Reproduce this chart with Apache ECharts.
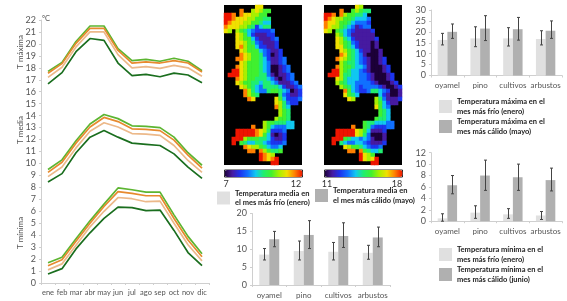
<!DOCTYPE html>
<html>
<head>
<meta charset="utf-8">
<style>html,body{margin:0;padding:0;background:#fff}#c{width:567px;height:301px}</style>
<script src="https://cdn.jsdelivr.net/npm/echarts@6/dist/echarts.min.js"></script>
</head>
<body>
<div id="c"></div>
<script>
const months = ['ene','feb','mar','abr','may','jun','jul','ago','sep','oct','nov','dic'];
const sites = ['oyamel','pino','cultivos','arbustos'];

// Monthly temperatures: four curves for each of the three panels
const maxGreen  = [17.7,18.45,20.2,21.5,21.5,19.6,18.6,18.7,18.55,18.8,18.55,17.75];
const maxOrange = [17.55,18.35,20.05,21.3,21.3,19.45,18.4,18.5,18.4,18.6,18.4,17.65];
const maxTan    = [17.2,18.05,19.75,21.0,21.0,19.1,18.0,18.1,17.95,18.2,18.0,17.3];
const maxDark   = [16.65,17.6,19.35,20.45,20.3,18.4,17.35,17.45,17.25,17.55,17.4,16.75];
const medGreen  = [9.5,10.3,11.9,13.3,14.1,13.75,13.15,13.1,13.0,12.2,10.9,9.85];
const medOrange = [9.25,10.1,11.7,13.05,13.85,13.5,12.9,12.85,12.75,11.95,10.7,9.6];
const medTan    = [8.9,9.7,11.3,12.7,13.4,13.05,12.5,12.45,12.35,11.5,10.25,9.25];
const medDark   = [8.45,9.15,10.9,12.2,12.75,12.2,11.7,11.6,11.5,10.8,9.7,8.75];
const minGreen  = [1.7,2.15,3.7,5.2,6.6,7.95,7.8,7.6,7.6,5.7,3.9,2.45];
const minOrange = [1.45,1.95,3.5,5.0,6.4,7.65,7.5,7.3,7.3,5.4,3.6,2.2];
const minTan    = [1.1,1.6,3.15,4.7,6.0,7.15,7.05,6.8,6.85,5.0,3.2,1.85];
const minDark   = [0.75,1.2,2.85,4.2,5.4,6.35,6.3,6.05,6.1,4.4,2.55,1.45];

// Bars and error bars per site
const tmaxCold = [16.3,17,17,16.7];
const tmaxWarm = [20,21.5,21.2,20.5];
const tmaxColdHi = [19.3,22.3,21.9,20.5], tmaxColdLo = [14,13.2,13.5,14];
const tmaxWarmHi = [23.6,27.4,26.6,25], tmaxWarmLo = [17,16,16.2,17];
const tmedCold = [8.5,9.5,9.3,9];
const tmedWarm = [12.8,14,13.7,13.3];
const tmedColdHi = [10.2,12.3,11.9,11.1], tmedColdLo = [7,7,7,7.2];
const tmedWarmHi = [15,18,17.4,16.2], tmedWarmLo = [10.7,10.2,10.5,10.7];
const tminCold = [0.5,1.5,1.2,1.0];
const tminWarm = [6.3,8,7.7,7.2];
const tminColdHi = [1.3,2.7,2.2,1.7], tminColdLo = [0,0.5,0.5,0.3];
const tminWarmHi = [8,10.7,10,9.3], tminWarmLo = [4.8,5.4,5.4,5.3];

// Gridded maps: each character is a level from 0 to 10 (a) on the colour bar, '.' is no data
const mapCold = [
"........88",
"....9..78766",
"aa9.9887766",
"aa9888776655",
"a98887766544",
"988877652455",
"87.7654322223",
"...8764211122",
"...87664211123",
"...88765321112",
"...89766422112",
"....87666432112",
"....98766532012",
"...9987665421123",
"....876665431123",
"...98766654300123",
"..aa8766654300123",
".aaa87666553101123",
"...987665554310123",
"...8766554554311123",
"....8765435555421123",
".....975433566543012",
".....9765.....532112",
"......98.....8642223",
".............875322",
".............9754",
"..............765",
"..............765",
".............7665",
"..........76655544",
".......9..76433344",
"...aaaaa98752223",
"...aaaaa98641012",
"..aaa76665542112",
"..a.654455432223",
".....9877654334",
"......99.976556",
".........a987",
".........a989a",
"............aa"];
const mapWarm = [
"........87",
"....9..67655",
"aa9.9766554",
"a98776654443",
"988766543332",
"987765431233",
"87.6543211112",
"...7643111111",
"...87542111112",
"...87653211101",
"...88654211101",
"....87654211001",
"....98654310001",
"...9876543210012",
"....765543210012",
"...97665443100012",
"..aa7654432100012",
".aaa75544332100012",
"...875444332100012",
"...7654433332100012",
"....7654323333210012",
".....964322355432001",
".....8654.....421001",
"......87.....7531112",
".............764211",
".............8643",
"..............654",
"..............654",
".............6554",
"..........65544433",
".......9..65322233",
"...aaaaa87641112",
"...aaaaa87530001",
"..aaa65443431001",
"..a.543344321112",
".....8766543223",
"......99.965445",
".........a876",
".........a878a",
"............aa"];
const mapColdRange = [7,12];
const mapWarmRange = [11,18];
const mapColdTicks = ['7','12'];
const mapWarmTicks = ['11','18'];
const palette = ['#1c0038','#461aa0','#1c34ee','#1070ff','#10c8f0','#20ee70','#40f030','#a8f000','#f0e000','#ff8000','#ee1500'];

const FONT = 'Lato';
const AXC = '#cfcfcf', TXT = '#555';
const LIGHT = '#e0e0e0', DARK = '#b0b0b0';
const cols = Array.from({length:20},(_,i)=>i), rows = Array.from({length:40},(_,i)=>i);

function decode(rowsIn, range){
  const out = [];
  rowsIn.forEach((r,y)=>{
    [...r].forEach((ch,x)=>{
      if(ch==='.') return;
      const lv = parseInt(ch,16);
      out.push([x,y,range[0]+lv/10*(range[1]-range[0])]);
    });
  });
  return out;
}

const grids = [
  {left:41,top:20,width:168,height:263},
  {left:224,top:5,width:78,height:160,show:true,backgroundColor:'#000',borderWidth:0},
  {left:324,top:5,width:78,height:160,show:true,backgroundColor:'#000',borderWidth:0},
  {left:431,top:10,width:131,height:65.5},
  {left:252,top:213.5,width:138,height:71.5},
  {left:431,top:152.7,width:131,height:68.5}
];
const catAxis = (g,data,font) => ({type:'category',gridIndex:g,data,
  axisLine:{lineStyle:{color:AXC}},axisTick:{show:true,alignWithLabel:false,length:2,lineStyle:{color:AXC}},
  axisLabel:{color:TXT,fontFamily:FONT,fontSize:font,margin:6,interval:0}});
const valAxis = (g,max,interval,font) => ({type:'value',gridIndex:g,min:0,max,interval,
  splitLine:{show:false},axisLine:{show:true,lineStyle:{color:AXC}},axisTick:{show:true,length:2,lineStyle:{color:AXC}},
  axisLabel:{color:TXT,fontFamily:FONT,fontSize:font,margin:5}});
const mapAxisX = g => ({type:'category',gridIndex:g,data:cols,show:false});
const mapAxisY = g => ({type:'category',gridIndex:g,data:rows,inverse:true,show:false});

const xAxes = [catAxis(0,months,7.5),mapAxisX(1),mapAxisX(2),catAxis(3,sites,8),catAxis(4,sites,8),catAxis(5,sites,8)];
const yAxes = [valAxis(0,22,1,9),mapAxisY(1),mapAxisY(2),valAxis(3,30,5,9),valAxis(4,20,5,9),valAxis(5,12,2,9)];

const series = [];
function line(data,color){
  series.push({type:'line',xAxisIndex:0,yAxisIndex:0,data,symbol:'none',silent:true,
    lineStyle:{color,width:1.7},z:color==='#1a6e1e'?3:2});
}
[[maxGreen,maxOrange,maxTan,maxDark],[medGreen,medOrange,medTan,medDark],[minGreen,minOrange,minTan,minDark]].forEach(g=>{
  line(g[0],'#5cb531');line(g[1],'#e78a2e');line(g[2],'#ecb98a');line(g[3],'#1a6e1e');
});
const mapColdIndex = series.length;
series.push({type:'heatmap',xAxisIndex:1,yAxisIndex:1,data:decode(mapCold,mapColdRange),silent:true,progressive:0});
const mapWarmIndex = series.length;
series.push({type:'heatmap',xAxisIndex:2,yAxisIndex:2,data:decode(mapWarm,mapWarmRange),silent:true,progressive:0});

function errorBars(g,hi,lo,side){
  series.push({type:'custom',xAxisIndex:g,yAxisIndex:g,silent:true,z:5,
    data:sites.map((s,i)=>[i,lo[i],hi[i]]),encode:{x:0,y:[1,2]},
    renderItem:(p,api)=>{
      const i=api.value(0), band=api.size([1,0])[0];
      const x=Math.round(api.coord([i,0])[0]+side*band*0.15)+0.5;
      const yl=api.coord([i,api.value(1)])[1], yh=api.coord([i,api.value(2)])[1];
      const st={stroke:'#444',lineWidth:1,fill:null};
      return {type:'group',children:[
        {type:'line',shape:{x1:x,y1:yl,x2:x,y2:yh},style:st},
        {type:'line',shape:{x1:x-1.5,y1:yl,x2:x+1.5,y2:yl},style:st},
        {type:'line',shape:{x1:x-1.5,y1:yh,x2:x+1.5,y2:yh},style:st}]};
    }});
}
function bars(g,name1,d1,name2,d2,hi1,lo1,hi2,lo2,bw){
  series.push({type:'bar',name:name1,xAxisIndex:g,yAxisIndex:g,data:d1,barWidth:bw,barGap:0,itemStyle:{color:LIGHT},silent:true});
  series.push({type:'bar',name:name2,xAxisIndex:g,yAxisIndex:g,data:d2,barWidth:bw,barGap:0,itemStyle:{color:DARK},silent:true});
  errorBars(g,hi1,lo1,-1);errorBars(g,hi2,lo2,1);
}
const nMaxC='Temperatura máxima en el\nmes más frío (enero)', nMaxW='Temperatura máxima en el\nmes más cálido (mayo)';
const nMedC='Temperatura media en\nel mes más frío (enero)', nMedW='Temperatura media en\nel mes más cálido (mayo)';
const nMinC='Temperatura mínima en el\nmes más frío (enero)', nMinW='Temperatura mínima en el\nmes más cálido (junio)';
bars(3,nMaxC,tmaxCold,nMaxW,tmaxWarm,tmaxColdHi,tmaxColdLo,tmaxWarmHi,tmaxWarmLo,9.7);
bars(4,nMedC,tmedCold,nMedW,tmedWarm,tmedColdHi,tmedColdLo,tmedWarmHi,tmedWarmLo,10);
bars(5,nMinC,tminCold,nMinW,tminWarm,tminColdHi,tminColdLo,tminWarmHi,tminWarmLo,9.7);

const legend = (data,left,top,gap) => ({data,left,top,orient:'vertical',padding:0,itemWidth:13,itemHeight:13,itemGap:gap,selectedMode:false,
  icon:'rect',textStyle:{color:'#222',fontFamily:FONT,fontWeight:'bold',fontSize:7.5,lineHeight:9.5}});

const bar = (left,seriesIndex,range) => ({type:'continuous',seriesIndex,min:range[0],max:range[1],left,top:169.5,orient:'horizontal',
  itemWidth:7,itemHeight:78,padding:0,calculable:false,realtime:false,hoverLink:false,text:null,showLabel:false,
  inRange:{color:palette},borderColor:'#222',borderWidth:1});

const label = (x,y,text,extra) => ({type:'text',x,y,silent:true,style:Object.assign({text,fill:'#333',font:'9px '+FONT},extra||{})});
const rotated = (x,y,text) => ({type:'text',x,y,rotation:Math.PI/2,silent:true,
  style:{text,fill:TXT,font:'8px '+FONT,textAlign:'center',textVerticalAlign:'middle'}});

const chart = echarts.init(document.getElementById('c'),null,{renderer:'canvas'});
chart.setOption({
  animation:false,backgroundColor:'#fff',
  grid:grids,xAxis:xAxes,yAxis:yAxes,series,
  legend:[legend([nMaxC,nMaxW],439,97,1),legend([nMedC],217,188.5,0),legend([nMedW],315,186,0),legend([nMinC,nMinW],439,245,1)],
  visualMap:[bar(224,mapColdIndex,mapColdRange),bar(324,mapWarmIndex,mapWarmRange)],
  graphic:[
    rotated(20,52,'T máxima'),rotated(20,130,'T media'),rotated(20,233,'T mínima'),
    label(42,15,'ºC',{fill:TXT,font:'7.5px '+FONT}),
    label(226,180,mapColdTicks[0],{textAlign:'center'}),label(296,180,mapColdTicks[1],{textAlign:'center'}),
    label(327,180,mapWarmTicks[0],{textAlign:'center'}),label(397,180,mapWarmTicks[1],{textAlign:'center'})
  ]
});
</script>
</body>
</html>
